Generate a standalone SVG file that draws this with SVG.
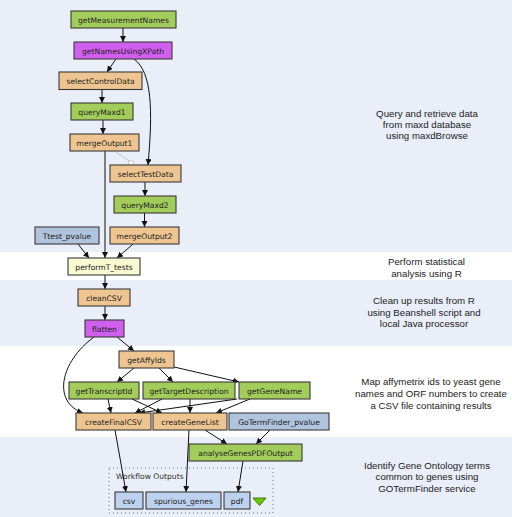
<svg xmlns="http://www.w3.org/2000/svg" width="512" height="517" viewBox="0 0 512 517">
<style>
.band{fill:#e9eef8}
.n rect{stroke:#3a3a3a;stroke-width:1.1}
.n text{font-family:"DejaVu Sans",sans-serif;font-size:7.6px;fill:#222;text-anchor:middle}
.g rect{fill:#a2cd5a}
.p rect{fill:#d15fee}
.b rect{fill:#eec591}
.s rect{fill:#b0c4de}
.o rect{fill:#bcd2ee}
.y rect{fill:#fafad2}
.e path{fill:none;stroke:#111;stroke-width:1;marker-end:url(#ah)}
.note{font-family:"Liberation Sans",Arial,sans-serif;font-size:9.7px;fill:#222;text-anchor:middle}
</style>
<defs>
<marker id="ah" markerUnits="userSpaceOnUse" markerWidth="7" markerHeight="7" refX="6" refY="3" orient="auto">
<path d="M0,0 L6,3 L0,6 z" fill="#111"/>
</marker>
</defs>
<rect width="512" height="517" fill="#ffffff"/>
<rect class="band" x="0" y="0" width="512" height="252"/>
<rect class="band" x="0" y="280" width="512" height="66"/>
<rect class="band" x="0" y="437" width="512" height="80"/>

<g id="annotations">
<text class="note" x="427" y="117">Query and retrieve data</text>
<text class="note" x="427" y="128">from maxd database</text>
<text class="note" x="427" y="139">using maxdBrowse</text>
<text class="note" x="426.5" y="265">Perform statistical</text>
<text class="note" x="426.5" y="277">analysis using R</text>
<text class="note" x="424" y="304">Clean up results from R</text>
<text class="note" x="424" y="316">using Beanshell script and</text>
<text class="note" x="424" y="327">local Java processor</text>
<text class="note" x="431" y="385">Map affymetrix ids to yeast gene</text>
<text class="note" x="431" y="397">names and ORF numbers to create</text>
<text class="note" x="431" y="409">a CSV file containing results</text>
<text class="note" x="427" y="468.5">Identify Gene Ontology terms</text>
<text class="note" x="427" y="480">common to genes using</text>
<text class="note" x="427" y="491.5">GOTermFinder service</text>
</g>

<g id="workflow-outputs">
<rect x="109" y="468" width="164" height="45" fill="none" stroke="#777" stroke-width="1" stroke-dasharray="1,3"/>
<text x="116" y="479" font-family="DejaVu Sans,sans-serif" font-size="7.6" fill="#333">Workflow Outputs</text>
<polygon points="253,498 266,498 259.5,505.5" fill="#66cc00" stroke="#2a5a00" stroke-width="0.8"/>
</g>

<g id="connectors" class="e">
<path d="M123,28 L123,42"/>
<path d="M116,59 L107,72"/>
<path d="M134,59 C152,72 153,110 148,165"/>
<path d="M102,90 L102,103"/>
<path d="M103,120 L103,134"/>
<path d="M105,151 L105,258"/>
<path d="M145,182 L145,196"/>
<path d="M144.5,213 L144.5,227"/>
<path d="M133,244 L117,258"/>
<path d="M78,244 L89,258"/>
<path d="M105,275 L105,289"/>
<path d="M105,306 L105,320"/>
<path d="M117,337 L134,351"/>
<path d="M94,337 C60,362 52,402 83,413"/>
<path d="M134,368 L117,382"/>
<path d="M159,368 L173,382"/>
<path d="M174,367 L239,382"/>
<path d="M108,399 L111,413"/>
<path d="M132,399 L162,413"/>
<path d="M162,399 L135,413"/>
<path d="M190,399 L190,413"/>
<path d="M237,399 L139,413"/>
<path d="M250,399 L216,413"/>
<path d="M205,430 L227,444"/>
<path d="M270,430 L256,444"/>
<path d="M115,430 L126,492"/>
<path d="M189,430 L186,492"/>
<path d="M243,461 L238,492"/>
<line x1="116" y1="152" x2="129" y2="161" stroke="#c4c4c4" stroke-width="1"/>
<circle cx="131" cy="163" r="2.5" fill="#ffffff" stroke="#c4c4c4" stroke-width="1"/>
</g>

<g id="getMeasurementNames" class="n g"><rect x="71" y="11" width="105" height="17"/><text x="123.5" y="22.5">getMeasurementNames</text></g>
<g id="getNamesUsingXPath" class="n p"><rect x="74" y="42" width="98" height="17"/><text x="123" y="53.5">getNamesUsingXPath</text></g>
<g id="selectControlData" class="n b"><rect x="59" y="72" width="83" height="17.5"/><text x="100.5" y="83.8">selectControlData</text></g>
<g id="queryMaxd1" class="n g"><rect x="71" y="103" width="62" height="17"/><text x="102" y="114.5">queryMaxd1</text></g>
<g id="mergeOutput1" class="n b"><rect x="70" y="134" width="69" height="17"/><text x="104.5" y="145.5">mergeOutput1</text></g>
<g id="selectTestData" class="n b"><rect x="110" y="165" width="71" height="17"/><text x="145.5" y="176.5">selectTestData</text></g>
<g id="queryMaxd2" class="n g"><rect x="114" y="196" width="62" height="17"/><text x="145" y="207.5">queryMaxd2</text></g>
<g id="mergeOutput2" class="n b"><rect x="110" y="227" width="69" height="17"/><text x="144.5" y="238.5">mergeOutput2</text></g>
<g id="Ttest_pvalue" class="n s"><rect x="35" y="227" width="64" height="17"/><text x="67" y="238.5">Ttest_pvalue</text></g>
<g id="performT_tests" class="n y"><rect x="68" y="258" width="72" height="17"/><text x="104" y="269.5">performT_tests</text></g>
<g id="cleanCSV" class="n b"><rect x="78" y="289" width="52" height="17"/><text x="104" y="300.5">cleanCSV</text></g>
<g id="flatten" class="n p"><rect x="85" y="320" width="39" height="17"/><text x="104.5" y="331.5">flatten</text></g>
<g id="getAffyIds" class="n b"><rect x="119" y="351" width="55" height="17"/><text x="146.5" y="362.5">getAffyIds</text></g>
<g id="getTranscriptId" class="n g"><rect x="69" y="382" width="70" height="17"/><text x="104" y="393.5">getTranscriptId</text></g>
<g id="getTargetDescription" class="n g"><rect x="143" y="382" width="92" height="17"/><text x="189" y="393.5">getTargetDescription</text></g>
<g id="getGeneName" class="n g"><rect x="239" y="382" width="71" height="17"/><text x="274.5" y="393.5">getGeneName</text></g>
<g id="createFinalCSV" class="n b"><rect x="76" y="413" width="75" height="17"/><text x="113.5" y="424.5">createFinalCSV</text></g>
<g id="createGeneList" class="n b"><rect x="153" y="413" width="74" height="17"/><text x="190" y="424.5">createGeneList</text></g>
<g id="GoTermFinder_pvalue" class="n s"><rect x="229" y="413" width="100" height="17"/><text x="279" y="424.5">GoTermFinder_pvalue</text></g>
<g id="analyseGenesPDFOutput" class="n g"><rect x="189" y="444" width="113" height="17"/><text x="245.5" y="455.5">analyseGenesPDFOutput</text></g>
<g id="csv" class="n o"><rect x="115" y="492" width="28" height="17"/><text x="129" y="503.5">csv</text></g>
<g id="spurious_genes" class="n o"><rect x="146" y="492" width="75" height="17"/><text x="183.5" y="503.5">spurious_genes</text></g>
<g id="pdf" class="n o"><rect x="224" y="492" width="26" height="17"/><text x="237" y="503.5">pdf</text></g>
</svg>
